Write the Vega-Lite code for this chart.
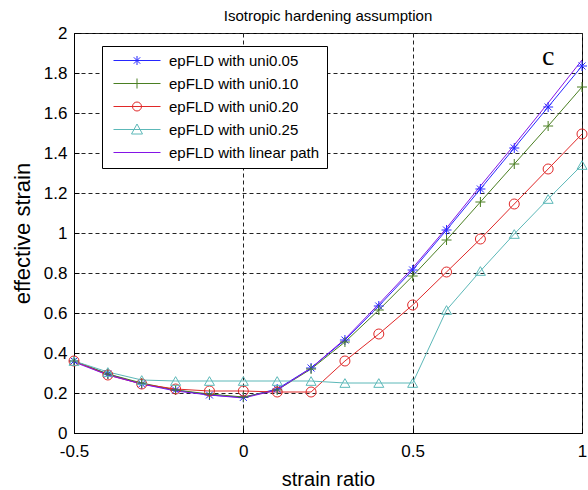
{
  "$schema": "https://vega.github.io/schema/vega-lite/v6.json",
  "autosize": "none",
  "width": 508,
  "height": 400,
  "padding": {"left": 74, "top": 33, "right": 6, "bottom": 57},
  "background": "white",
  "title": {"text": "Isotropic hardening assumption", "font": "Liberation Sans", "fontSize": 15, "fontWeight": "normal", "color": "black", "anchor": "middle", "frame": "group", "baseline": "alphabetic", "offset": -12},
  "config": {
    "view": {"stroke": "black", "strokeWidth": 1},
    "axis": {
      "domainColor": "black", "tickColor": "black", "tickSize": -5,
      "labelFont": "Liberation Sans", "labelFontSize": 17, "labelColor": "black",
      "titleFont": "Liberation Sans", "titleFontSize": 20, "titleFontWeight": "normal", "titleColor": "black",
      "grid": true, "gridColor": "#222222", "gridDash": [4, 3], "gridOpacity": 1, "gridWidth": 1,
      "labelFlush": false, "labelOverlap": false
    }
  },
  "datasets": {
    "curves": [
      {"series": "epFLD with uni0.05", "x": -0.5, "y": 0.36},
      {"series": "epFLD with uni0.05", "x": -0.4, "y": 0.295},
      {"series": "epFLD with uni0.05", "x": -0.3, "y": 0.245},
      {"series": "epFLD with uni0.05", "x": -0.2, "y": 0.215},
      {"series": "epFLD with uni0.05", "x": -0.1, "y": 0.19},
      {"series": "epFLD with uni0.05", "x": 0.0, "y": 0.178},
      {"series": "epFLD with uni0.05", "x": 0.1, "y": 0.22},
      {"series": "epFLD with uni0.05", "x": 0.2, "y": 0.325},
      {"series": "epFLD with uni0.05", "x": 0.3, "y": 0.465},
      {"series": "epFLD with uni0.05", "x": 0.4, "y": 0.635},
      {"series": "epFLD with uni0.05", "x": 0.5, "y": 0.815},
      {"series": "epFLD with uni0.05", "x": 0.6, "y": 1.015},
      {"series": "epFLD with uni0.05", "x": 0.7, "y": 1.22},
      {"series": "epFLD with uni0.05", "x": 0.8, "y": 1.425},
      {"series": "epFLD with uni0.05", "x": 0.9, "y": 1.63},
      {"series": "epFLD with uni0.05", "x": 1.0, "y": 1.835},
      {"series": "epFLD with uni0.10", "x": -0.5, "y": 0.36},
      {"series": "epFLD with uni0.10", "x": -0.4, "y": 0.295},
      {"series": "epFLD with uni0.10", "x": -0.3, "y": 0.25},
      {"series": "epFLD with uni0.10", "x": -0.2, "y": 0.215},
      {"series": "epFLD with uni0.10", "x": -0.1, "y": 0.195},
      {"series": "epFLD with uni0.10", "x": 0.0, "y": 0.18},
      {"series": "epFLD with uni0.10", "x": 0.1, "y": 0.215},
      {"series": "epFLD with uni0.10", "x": 0.2, "y": 0.32},
      {"series": "epFLD with uni0.10", "x": 0.3, "y": 0.455},
      {"series": "epFLD with uni0.10", "x": 0.4, "y": 0.615},
      {"series": "epFLD with uni0.10", "x": 0.5, "y": 0.785},
      {"series": "epFLD with uni0.10", "x": 0.6, "y": 0.965},
      {"series": "epFLD with uni0.10", "x": 0.7, "y": 1.155},
      {"series": "epFLD with uni0.10", "x": 0.8, "y": 1.345},
      {"series": "epFLD with uni0.10", "x": 0.9, "y": 1.535},
      {"series": "epFLD with uni0.10", "x": 1.0, "y": 1.73},
      {"series": "epFLD with uni0.20", "x": -0.5, "y": 0.36},
      {"series": "epFLD with uni0.20", "x": -0.4, "y": 0.29},
      {"series": "epFLD with uni0.20", "x": -0.3, "y": 0.245},
      {"series": "epFLD with uni0.20", "x": -0.2, "y": 0.22},
      {"series": "epFLD with uni0.20", "x": -0.1, "y": 0.21},
      {"series": "epFLD with uni0.20", "x": 0.0, "y": 0.21},
      {"series": "epFLD with uni0.20", "x": 0.1, "y": 0.205},
      {"series": "epFLD with uni0.20", "x": 0.2, "y": 0.205},
      {"series": "epFLD with uni0.20", "x": 0.3, "y": 0.36},
      {"series": "epFLD with uni0.20", "x": 0.4, "y": 0.495},
      {"series": "epFLD with uni0.20", "x": 0.5, "y": 0.64},
      {"series": "epFLD with uni0.20", "x": 0.6, "y": 0.805},
      {"series": "epFLD with uni0.20", "x": 0.7, "y": 0.97},
      {"series": "epFLD with uni0.20", "x": 0.8, "y": 1.145},
      {"series": "epFLD with uni0.20", "x": 0.9, "y": 1.32},
      {"series": "epFLD with uni0.20", "x": 1.0, "y": 1.495},
      {"series": "epFLD with uni0.25", "x": -0.5, "y": 0.36},
      {"series": "epFLD with uni0.25", "x": -0.4, "y": 0.305},
      {"series": "epFLD with uni0.25", "x": -0.3, "y": 0.265},
      {"series": "epFLD with uni0.25", "x": -0.2, "y": 0.26},
      {"series": "epFLD with uni0.25", "x": -0.1, "y": 0.26},
      {"series": "epFLD with uni0.25", "x": 0.0, "y": 0.26},
      {"series": "epFLD with uni0.25", "x": 0.1, "y": 0.26},
      {"series": "epFLD with uni0.25", "x": 0.2, "y": 0.26},
      {"series": "epFLD with uni0.25", "x": 0.3, "y": 0.25},
      {"series": "epFLD with uni0.25", "x": 0.4, "y": 0.25},
      {"series": "epFLD with uni0.25", "x": 0.5, "y": 0.25},
      {"series": "epFLD with uni0.25", "x": 0.6, "y": 0.615},
      {"series": "epFLD with uni0.25", "x": 0.7, "y": 0.81},
      {"series": "epFLD with uni0.25", "x": 0.8, "y": 0.995},
      {"series": "epFLD with uni0.25", "x": 0.9, "y": 1.17},
      {"series": "epFLD with uni0.25", "x": 1.0, "y": 1.34},
      {"series": "epFLD with linear path", "x": -0.5, "y": 0.355},
      {"series": "epFLD with linear path", "x": -0.4, "y": 0.29},
      {"series": "epFLD with linear path", "x": -0.3, "y": 0.245},
      {"series": "epFLD with linear path", "x": -0.2, "y": 0.21},
      {"series": "epFLD with linear path", "x": -0.1, "y": 0.19},
      {"series": "epFLD with linear path", "x": 0.0, "y": 0.175},
      {"series": "epFLD with linear path", "x": 0.1, "y": 0.215},
      {"series": "epFLD with linear path", "x": 0.2, "y": 0.325},
      {"series": "epFLD with linear path", "x": 0.3, "y": 0.47},
      {"series": "epFLD with linear path", "x": 0.4, "y": 0.645},
      {"series": "epFLD with linear path", "x": 0.5, "y": 0.825},
      {"series": "epFLD with linear path", "x": 0.6, "y": 1.025},
      {"series": "epFLD with linear path", "x": 0.7, "y": 1.235},
      {"series": "epFLD with linear path", "x": 0.8, "y": 1.44},
      {"series": "epFLD with linear path", "x": 0.9, "y": 1.65},
      {"series": "epFLD with linear path", "x": 1.0, "y": 1.865}
    ],
    "note": [{"label": "c", "x": 0.9, "y": 1.88}]
  },
  "layer": [
    {
      "data": {"name": "curves"},
      "mark": {"type": "line", "clip": true},
      "encoding": {
        "x": {"field": "x", "type": "quantitative", "scale": {"domain": [-0.5, 1], "nice": false, "zero": false},
              "axis": {"values": [-0.5, 0, 0.5, 1], "tickCount": 20, "labelExpr": "replace(format(datum.value, '.1~f'), '\u2212', '-')", "title": "strain ratio", "labelPadding": 15, "titleX": 254, "titleY": 52, "titleBaseline": "alphabetic", "titleAnchor": "middle"}},
        "y": {"field": "y", "type": "quantitative", "scale": {"domain": [0, 2], "nice": false},
              "axis": {"values": [0, 0.2, 0.4, 0.6, 0.8, 1, 1.2, 1.4, 1.6, 1.8, 2], "tickCount": 20, "format": ".1~f", "title": "effective strain", "titleFontSize": 22, "labelPadding": 12, "titleX": -52, "titleY": 200, "titleAngle": -90, "titleBaseline": "middle", "titleAnchor": "middle"}},
        "color": {"field": "series", "type": "nominal",
                  "scale": {"domain": ["epFLD with uni0.05", "epFLD with uni0.10", "epFLD with uni0.20", "epFLD with uni0.25", "epFLD with linear path"],
                            "range": ["#2626ff", "#4a7f22", "#e02828", "#5cb8b8", "#8414e6"]},
                  "legend": {
                    "orient": "none", "legendX": 28, "legendY": 13, "title": null,
                    "strokeColor": "black", "fillColor": "white", "padding": 7,
                    "labelFont": "Liberation Sans", "labelFontSize": 15, "labelColor": "black",
                    "symbolSize": 100, "symbolStrokeWidth": 1, "labelOffset": 45, "rowPadding": 7,
                    "encode": {"symbols": {"update": {
                      "fill": {"value": "transparent"},
                      "strokeDash": {"value": []},
                      "shape": {"signal": "datum.value === 'epFLD with uni0.05' ? 'M-0.6,0H8.8M4.1,-0.9V0.9M3.46,-0.64L4.74,0.64M3.46,0.64L4.74,-0.64' : datum.value === 'epFLD with uni0.10' ? 'M-0.6,0H8.8M4.1,-1V1' : datum.value === 'epFLD with uni0.20' ? 'M-0.6,0H8.8M3.2,0A0.9,0.9 0 1,1 5,0A0.9,0.9 0 1,1 3.2,0' : datum.value === 'epFLD with uni0.25' ? 'M-0.6,0H8.8M3.0,0.9L4.1,-1.1L5.2,0.9Z' : 'M-0.6,0H8.8'"}
                    }}}
                  }},
        "strokeWidth": {"field": "series", "type": "nominal", "legend": null,
                        "scale": {"domain": ["epFLD with uni0.05", "epFLD with uni0.10", "epFLD with uni0.20", "epFLD with uni0.25", "epFLD with linear path"],
                                  "range": [1, 1, 1, 1, 1.6]}}
      }
    },
    {
      "data": {"name": "curves"},
      "transform": [{"filter": "datum.series !== 'epFLD with linear path'"}],
      "mark": {"type": "point", "filled": false, "strokeWidth": 1, "opacity": 1, "size": 100},
      "encoding": {
        "x": {"field": "x", "type": "quantitative"},
        "y": {"field": "y", "type": "quantitative"},
        "color": {"field": "series", "type": "nominal", "legend": null},
        "shape": {"field": "series", "type": "nominal", "legend": null,
                  "scale": {"domain": ["epFLD with uni0.05", "epFLD with uni0.10", "epFLD with uni0.20", "epFLD with uni0.25"],
                            "range": ["M-1,0H1M0,-1V1M-0.7,-0.7L0.7,0.7M-0.7,0.7L0.7,-0.7", "M-1,0H1M0,-1V1", "circle", "triangle-up"]}}
      }
    },
    {
      "data": {"name": "note"},
      "mark": {"type": "text", "font": "Liberation Serif", "fontSize": 28, "fontWeight": "normal", "color": "black", "baseline": "middle", "align": "center"},
      "encoding": {
        "x": {"field": "x", "type": "quantitative"},
        "y": {"field": "y", "type": "quantitative"},
        "text": {"field": "label"}
      }
    }
  ]
}
